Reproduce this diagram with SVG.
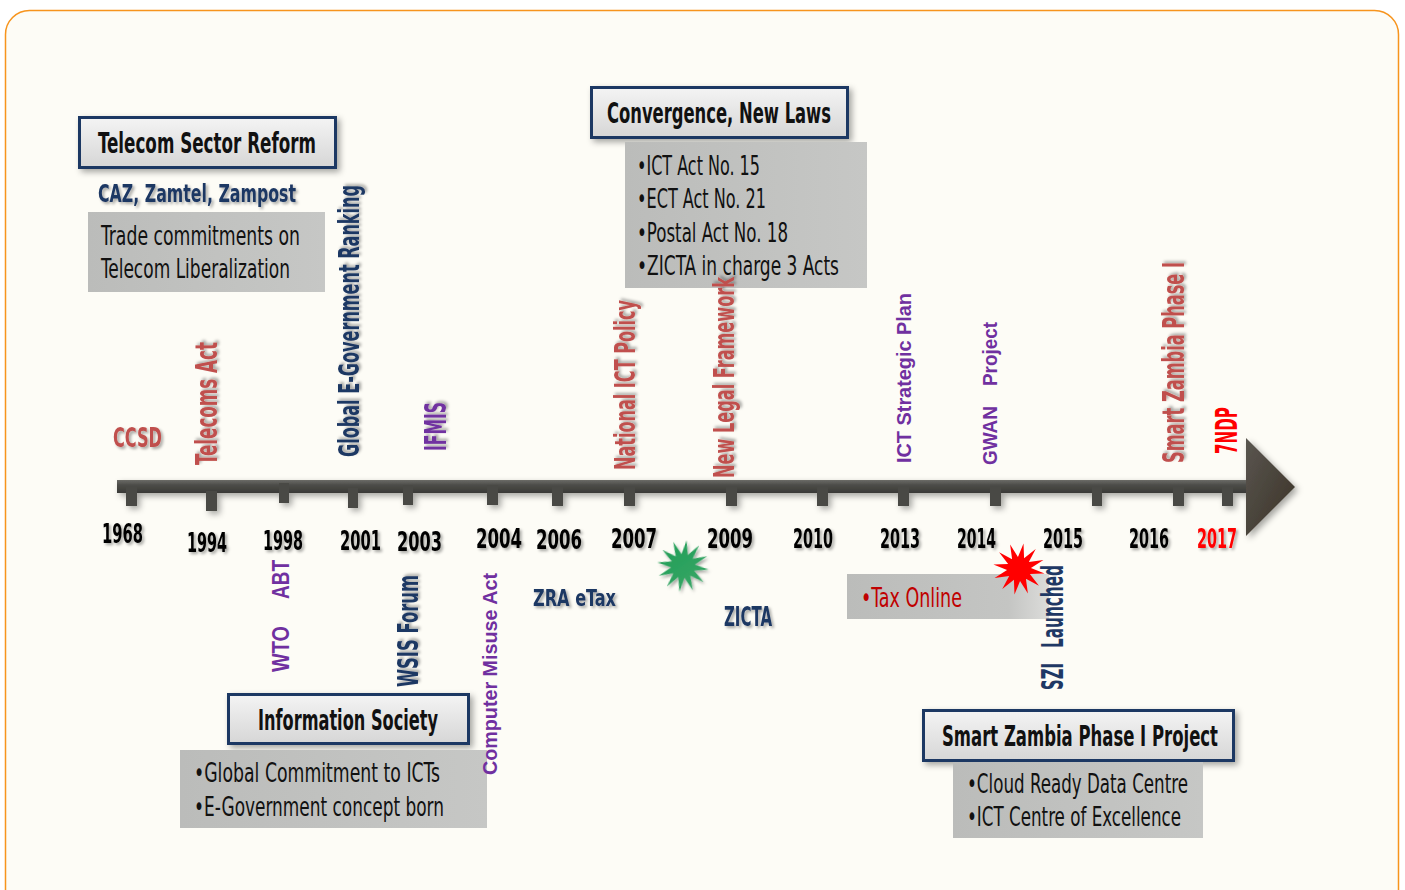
<svg xmlns="http://www.w3.org/2000/svg" width="1405" height="890" viewBox="0 0 1405 890">
<defs>
<style>
.c{font-family:"DejaVu Sans Condensed","DejaVu Sans",sans-serif;font-stretch:condensed}
.a{font-family:"Liberation Sans",Arial,sans-serif}
.b{font-weight:bold}
.yr{font-size:18px;font-weight:bold;fill:#000}
.red{fill:#c0504d}
.navy{fill:#1f3864}
.pur{fill:#7030a0}
.hd{fill:url(#hdg);stroke:#1f3864;stroke-width:3}
.gb{fill:url(#gbg)}
.tick{fill:#484844}
.ht{font-size:28px;font-weight:bold;fill:#111}
.bt{font-size:26px;fill:#111}
</style>
<linearGradient id="hdg" x1="0" y1="0" x2="0" y2="1">
<stop offset="0" stop-color="#f4f4f4"/><stop offset="1" stop-color="#d6d6d6"/>
</linearGradient>
<linearGradient id="gbg" x1="0" y1="0" x2="1" y2="0">
<stop offset="0" stop-color="#bbbcba"/><stop offset="1" stop-color="#c6c7c5"/>
</linearGradient>
<linearGradient id="taxg" x1="0" y1="0" x2="1" y2="0">
<stop offset="0" stop-color="#bbbcba"/><stop offset="0.8" stop-color="#c4c5c3"/><stop offset="1" stop-color="#dcdcda"/>
</linearGradient>
<linearGradient id="barg" x1="0" y1="0" x2="0" y2="1">
<stop offset="0" stop-color="#6a6a66"/><stop offset="0.4" stop-color="#4c4c48"/><stop offset="1" stop-color="#3a3a37"/>
</linearGradient>
<linearGradient id="arrg" x1="0" y1="0" x2="1" y2="1">
<stop offset="0" stop-color="#5a5650"/><stop offset="1" stop-color="#3a3226"/>
</linearGradient>
<linearGradient id="grg" x1="0" y1="0" x2="1" y2="1">
<stop offset="0" stop-color="#1f9d55"/><stop offset="1" stop-color="#3aa768"/>
</linearGradient>
<filter id="sh" x="-20%" y="-20%" width="140%" height="140%">
<feDropShadow dx="2" dy="2" stdDeviation="1.5" flood-color="#000" flood-opacity="0.35"/>
</filter>
<filter id="bsh" x="-10%" y="-30%" width="120%" height="160%">
<feDropShadow dx="3" dy="3" stdDeviation="3" flood-color="#000" flood-opacity="0.35"/>
</filter>
<polygon id="star" points="26,0 11.59,3.11 22.52,13 8.49,8.49 13,22.52 3.11,11.59 0,26 -3.11,11.59 -13,22.52 -8.49,8.49 -22.52,13 -11.59,3.11 -26,0 -11.59,-3.11 -22.52,-13 -8.49,-8.49 -13,-22.52 -3.11,-11.59 0,-26 3.11,-11.59 13,-22.52 8.49,-8.49 22.52,-13 11.59,-3.11"/>
</defs>

<rect x="5.5" y="10.5" width="1393" height="910" rx="24" fill="#fdfcf6" stroke="#f7941d" stroke-width="1.5"/>

<g id="connectors">
<g id="timeline" filter="url(#bsh)">
<rect x="117" y="480" width="1135" height="13" fill="url(#barg)"/>
<polygon points="1246,438 1295,487 1246,536" fill="url(#arrg)"/>
<rect class="tick" x="126" y="487" width="11" height="19"/>
<rect class="tick" x="206" y="491" width="11" height="20"/>
<rect class="tick" x="279" y="483" width="10" height="20"/>
<rect class="tick" x="348" y="488" width="10" height="20"/>
<rect class="tick" x="403" y="485" width="10" height="20"/>
<rect class="tick" x="487" y="485" width="11" height="20"/>
<rect class="tick" x="552" y="487" width="11" height="19"/>
<rect class="tick" x="624" y="487" width="11" height="19"/>
<rect class="tick" x="726" y="487" width="11" height="19"/>
<rect class="tick" x="817" y="487" width="11" height="19"/>
<rect class="tick" x="898" y="487" width="11" height="19"/>
<rect class="tick" x="990" y="487" width="11" height="19"/>
<rect class="tick" x="1092" y="487" width="10" height="19"/>
<rect class="tick" x="1173" y="487" width="11" height="19"/>
<rect class="tick" x="1222" y="487" width="11" height="19"/>
</g>
</g>

<g id="years" class="c yr" filter="url(#sh)">
<text transform="translate(102,543) scale(1,1.5)" textLength="41" lengthAdjust="spacingAndGlyphs">1968</text>
<text transform="translate(187,552) scale(1,1.5)" textLength="40" lengthAdjust="spacingAndGlyphs">1994</text>
<text transform="translate(263,550) scale(1,1.5)" textLength="40" lengthAdjust="spacingAndGlyphs">1998</text>
<text transform="translate(340,550) scale(1,1.5)" textLength="41" lengthAdjust="spacingAndGlyphs">2001</text>
<text transform="translate(397,551) scale(1,1.5)" textLength="45" lengthAdjust="spacingAndGlyphs">2003</text>
<text transform="translate(476,548) scale(1,1.5)" textLength="46" lengthAdjust="spacingAndGlyphs">2004</text>
<text transform="translate(536,549) scale(1,1.5)" textLength="46" lengthAdjust="spacingAndGlyphs">2006</text>
<text transform="translate(611,548) scale(1,1.5)" textLength="46" lengthAdjust="spacingAndGlyphs">2007</text>
<text transform="translate(707,548) scale(1,1.5)" textLength="46" lengthAdjust="spacingAndGlyphs">2009</text>
<text transform="translate(793,548) scale(1,1.5)" textLength="40" lengthAdjust="spacingAndGlyphs">2010</text>
<text transform="translate(880,548) scale(1,1.5)" textLength="40" lengthAdjust="spacingAndGlyphs">2013</text>
<text transform="translate(957,548) scale(1,1.5)" textLength="39" lengthAdjust="spacingAndGlyphs">2014</text>
<text transform="translate(1043,548) scale(1,1.5)" textLength="40" lengthAdjust="spacingAndGlyphs">2015</text>
<text transform="translate(1129,548) scale(1,1.5)" textLength="40" lengthAdjust="spacingAndGlyphs">2016</text>
<text transform="translate(1197,548) scale(1,1.5)" textLength="40" lengthAdjust="spacingAndGlyphs" fill="#ff0000">2017</text>
</g>

<g id="telecom-sector-reform">
<rect class="hd" x="79.5" y="117.5" width="256" height="50" filter="url(#bsh)"/>
<text class="c ht" x="98" y="153" textLength="218" lengthAdjust="spacingAndGlyphs">Telecom Sector Reform</text>
<text class="c b navy" x="98" y="202" font-size="25" textLength="198" lengthAdjust="spacingAndGlyphs" filter="url(#sh)">CAZ, Zamtel, Zampost</text>
<rect class="gb" x="88" y="212" width="237" height="80"/>
<text class="c bt" x="101" y="245" textLength="199" lengthAdjust="spacingAndGlyphs">Trade commitments on</text>
<text class="c bt" x="101" y="278" textLength="189" lengthAdjust="spacingAndGlyphs">Telecom Liberalization</text>
</g>

<g id="convergence">
<rect class="hd" x="591.5" y="87.5" width="256" height="50" filter="url(#bsh)"/>
<text class="c ht" x="607" y="123" textLength="224" lengthAdjust="spacingAndGlyphs">Convergence, New Laws</text>
<rect class="gb" x="625" y="142" width="242" height="146"/>
<text class="c bt" x="637" y="175" textLength="123" lengthAdjust="spacingAndGlyphs">•ICT Act No. 15</text>
<text class="c bt" x="637" y="208" textLength="129" lengthAdjust="spacingAndGlyphs">•ECT Act No. 21</text>
<text class="c bt" x="637" y="242" textLength="151" lengthAdjust="spacingAndGlyphs">•Postal Act No. 18</text>
<text class="c bt" x="637" y="275" textLength="202" lengthAdjust="spacingAndGlyphs">•ZICTA  in charge 3 Acts</text>
</g>

<g id="information-society">
<rect class="hd" x="228.5" y="694.5" width="240" height="49" filter="url(#bsh)"/>
<text class="c ht" x="258" y="730" textLength="180" lengthAdjust="spacingAndGlyphs">Information Society</text>
<rect class="gb" x="180" y="750" width="307" height="78"/>
<text class="c bt" x="194" y="782" textLength="246" lengthAdjust="spacingAndGlyphs">•Global Commitment to ICTs</text>
<text class="c bt" x="194" y="816" textLength="250" lengthAdjust="spacingAndGlyphs">•E-Government concept born</text>
</g>

<g id="smart-zambia-project">
<rect class="hd" x="923.5" y="710.5" width="310" height="50" filter="url(#bsh)"/>
<text class="c ht" x="942" y="746" textLength="276" lengthAdjust="spacingAndGlyphs">Smart Zambia Phase I Project</text>
<rect class="gb" x="953" y="762" width="250" height="76"/>
<text class="c bt" x="967" y="793" textLength="221" lengthAdjust="spacingAndGlyphs">•Cloud Ready Data Centre</text>
<text class="c bt" x="967" y="826" textLength="214" lengthAdjust="spacingAndGlyphs">•ICT Centre of Excellence</text>
</g>

<g id="ccsd"><text class="c b red" x="113" y="447" font-size="27" textLength="49" lengthAdjust="spacingAndGlyphs" filter="url(#sh)">CCSD</text></g>
<g id="telecoms-act"><text class="c b red" transform="translate(217,465) rotate(-90)" font-size="30" textLength="123" lengthAdjust="spacingAndGlyphs" filter="url(#sh)">Telecoms Act</text></g>
<g id="egov-ranking"><text class="c b navy" transform="translate(359,457) rotate(-90)" font-size="29" textLength="272" lengthAdjust="spacingAndGlyphs" filter="url(#sh)">Global E-Government Ranking</text></g>
<g id="ifmis"><text class="c b pur" transform="translate(446,451) rotate(-90)" font-size="31" textLength="49" lengthAdjust="spacingAndGlyphs" filter="url(#sh)">IFMIS</text></g>
<g id="national-ict-policy"><text class="c b red" transform="translate(635,470) rotate(-90)" font-size="29" textLength="170" lengthAdjust="spacingAndGlyphs" filter="url(#sh)">National ICT Policy</text></g>
<g id="new-legal-framework"><text class="c b red" transform="translate(734,478) rotate(-90)" font-size="29" textLength="201" lengthAdjust="spacingAndGlyphs" filter="url(#sh)">New Legal Framework</text></g>
<g id="ict-strategic-plan"><text class="a b pur" transform="translate(911,463) rotate(-90)" font-size="21" textLength="170" lengthAdjust="spacingAndGlyphs">ICT Strategic Plan</text></g>
<g id="gwan-project"><text class="a b pur" transform="translate(997,465) rotate(-90)" font-size="21"><tspan x="0" textLength="59" lengthAdjust="spacingAndGlyphs">GWAN</tspan><tspan x="79" textLength="64" lengthAdjust="spacingAndGlyphs">Project</tspan></text></g>
<g id="smart-zambia-phase"><text class="c b red" transform="translate(1184,463) rotate(-90)" font-size="30" textLength="201" lengthAdjust="spacingAndGlyphs" filter="url(#sh)">Smart Zambia Phase I</text></g>
<g id="ndp7"><text class="c b" fill="#ff0000" transform="translate(1237,454) rotate(-90)" font-size="30" textLength="47" lengthAdjust="spacingAndGlyphs">7NDP</text></g>

<g id="wto-abt"><text class="a b pur" transform="translate(289,672) rotate(-90)" font-size="24"><tspan x="0" textLength="46" lengthAdjust="spacingAndGlyphs">WTO</tspan><tspan x="73" textLength="39" lengthAdjust="spacingAndGlyphs">ABT</tspan></text></g>
<g id="wsis-forum"><text class="c b navy" transform="translate(418,687) rotate(-90)" font-size="28" textLength="112" lengthAdjust="spacingAndGlyphs" filter="url(#sh)">WSIS Forum</text></g>
<g id="computer-misuse-act"><text class="a b pur" transform="translate(497,775) rotate(-90)" font-size="21" textLength="202" lengthAdjust="spacingAndGlyphs">Computer Misuse Act</text></g>
<g id="zra-etax"><text class="c b navy" x="533" y="606" font-size="23" textLength="83" lengthAdjust="spacingAndGlyphs" filter="url(#sh)">ZRA eTax</text></g>
<g id="zicta"><text class="c b navy" x="724" y="626" font-size="27" textLength="48" lengthAdjust="spacingAndGlyphs" filter="url(#sh)">ZICTA</text></g>
<g id="green-star"><use href="#star" transform="translate(683,566) rotate(8)" fill="url(#grg)" filter="url(#sh)"/></g>

<g id="tax-online">
<rect x="847" y="574" width="202" height="45" fill="url(#taxg)"/>
<text class="c" x="861" y="607" font-size="27" fill="#c00000" textLength="101" lengthAdjust="spacingAndGlyphs">•Tax Online</text>
</g>
<g id="red-star"><use href="#star" transform="translate(1019,569) rotate(10)" fill="#ff0000"/></g>
<g id="szi-launched"><text class="c b navy" transform="translate(1063,690) rotate(-90)" font-size="30"><tspan x="0" textLength="27" lengthAdjust="spacingAndGlyphs">SZI</tspan><tspan x="42" textLength="83" lengthAdjust="spacingAndGlyphs">Launched</tspan></text></g>
</svg>
